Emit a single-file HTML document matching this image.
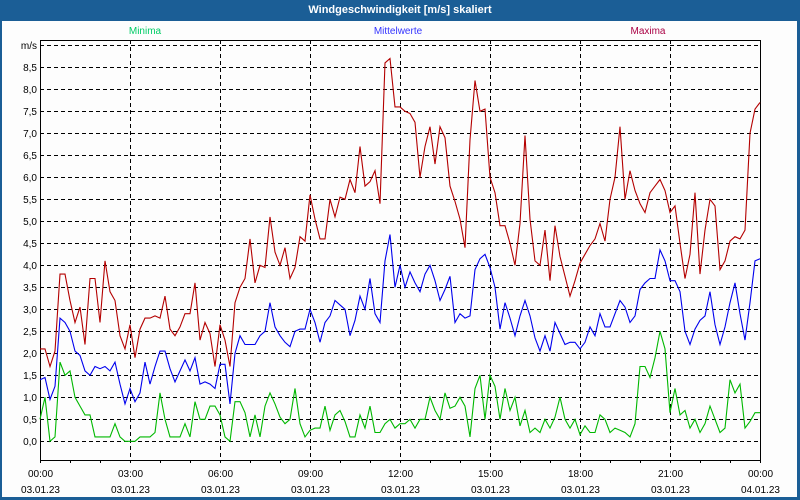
<!DOCTYPE html>
<html><head><meta charset="utf-8"><style>
body{margin:0;background:#fff;}
#win{position:relative;width:800px;height:500px;background:#1b5e96;overflow:hidden;font-family:"Liberation Sans",sans-serif;}
#title{position:absolute;left:0;top:0;width:800px;height:21px;line-height:20px;text-align:center;color:#fff;font-weight:bold;font-size:11px;}
#inner{position:absolute;left:2px;top:21px;width:795px;height:476px;background:#fdfdfd;}
svg{position:absolute;left:0;top:0;}
</style></head><body>
<div id="win">
<div id="title">Windgeschwindigkeit [m/s] skaliert</div>
<div id="inner"></div>
<svg id="chart" width="800" height="500"></svg>
</div>
<script>
const maxima=[2.1,2.1,1.7,2.05,3.8,3.8,3.2,2.7,3.05,2.2,3.7,3.7,2.7,4.1,3.4,3.2,2.4,2.1,2.65,1.9,2.55,2.8,2.8,2.85,2.8,3.3,2.55,2.4,2.6,2.9,2.9,3.6,2.3,2.7,2.45,1.7,2.65,2.3,
1.7,3.15,3.5,3.7,4.6,3.6,4.0,3.95,5.1,4.3,4.0,4.4,3.7,3.95,4.65,4.55,5.6,5.05,4.6,4.6,5.5,5.1,5.55,5.5,5.95,5.65,6.7,5.8,5.9,6.15,5.4,
8.6,8.7,7.6,7.6,7.5,7.45,
7.25,6.0,6.7,7.15,6.3,7.15,6.9,5.8,5.45,5.05,4.4,6.85,8.2,7.5,7.55,6.0,5.65,4.9,4.9,4.5,4.0,4.95,6.95,5.05,4.1,4.0,4.8,3.65,4.9,4.2,3.75,3.3,3.65,4.05,4.25,
4.45,4.6,4.95,4.55,5.5,6.0,7.15,5.5,6.15,5.7,5.4,5.2,5.65,5.8,5.95,5.7,5.2,5.35,4.5,3.7,4.25,5.65,3.8,4.8,5.5,5.35,3.9,4.1,4.55,4.65,4.6,4.8,7.0,7.55,7.7];
const mittel=[1.4,1.45,0.95,1.25,2.8,2.7,2.5,2.05,1.95,1.6,1.5,1.7,1.65,1.7,1.6,1.8,1.3,0.85,1.2,0.9,1.1,1.8,1.3,1.7,2.05,2.05,1.65,1.35,1.6,1.85,1.6,1.9,1.3,1.35,1.3,1.2,1.75,1.75,
0.85,2.0,2.4,2.2,2.2,2.2,2.4,2.5,3.15,2.6,2.4,2.25,2.15,2.5,2.55,2.55,3.0,2.7,2.25,2.7,2.85,3.2,3.1,3.0,2.4,2.75,3.3,3.0,3.7,2.9,2.7,4.1,4.7,3.5,4.0,3.5,3.85,
3.6,3.4,3.8,4.0,3.65,3.2,3.45,3.75,2.7,2.9,2.8,2.85,3.9,4.15,4.25,3.95,3.5,2.55,3.15,2.8,2.4,2.85,3.2,2.85,2.35,2.05,2.4,2.05,2.7,2.45,2.2,2.25,2.25,2.1,2.25,
2.6,2.4,2.9,2.6,2.6,2.9,3.2,3.05,2.7,2.85,3.45,3.6,3.7,3.7,4.35,4.1,3.65,3.65,3.4,2.5,2.2,2.55,2.75,2.85,3.4,2.65,2.2,2.6,3.15,3.6,2.9,2.3,3.15,4.1,4.15];
const minima=[0.5,1.0,0.0,0.1,1.8,1.5,1.6,1.0,0.8,0.6,0.6,0.1,0.1,0.1,0.1,0.4,0.1,0.0,0.0,0.0,0.1,0.1,0.1,0.2,1.1,0.5,0.1,0.1,0.1,0.4,0.1,0.9,0.5,0.5,0.8,0.8,0.6,0.1,
0.0,0.9,0.9,0.65,0.1,0.6,0.1,0.8,1.1,0.85,0.55,0.4,0.5,1.2,0.4,0.1,0.25,0.3,0.3,0.8,0.25,0.6,0.7,0.45,0.1,0.1,0.6,0.3,0.8,0.2,0.2,0.4,0.5,0.3,0.4,0.4,0.5,
0.3,0.5,0.5,1.0,0.7,0.5,1.1,0.75,0.8,1.0,0.8,0.1,1.2,1.5,0.5,1.5,1.25,0.5,1.2,0.7,1.0,0.35,0.7,0.2,0.3,0.2,0.5,0.3,0.55,1.0,0.5,0.3,0.5,0.15,0.35,
0.2,0.2,0.6,0.5,0.2,0.3,0.25,0.2,0.1,0.4,1.7,1.7,1.45,1.9,2.5,2.1,0.65,1.2,0.6,0.7,0.3,0.5,0.2,0.4,0.8,0.5,0.2,0.3,1.4,1.1,1.3,0.3,0.45,0.65,0.65];
const yTicks=["0,0","0,5","1,0","1,5","2,0","2,5","3,0","3,5","4,0","4,5","5,0","5,5","6,0","6,5","7,0","7,5","8,0","8,5"];
const xTimes=["00:00","03:00","06:00","09:00","12:00","15:00","18:00","21:00","00:00"];
const xDates=["03.01.23","03.01.23","03.01.23","03.01.23","03.01.23","03.01.23","03.01.23","03.01.23","04.01.23"];
const stepMinutes=10;

const L=40,R=760,T=40,B=460,Y0=441.3,PPU=44;
const yS=v=>Y0-v*PPU;
const xS=m=>L+m*(R-L)/1440;
const NS='http://www.w3.org/2000/svg';
const svg=document.getElementById('chart');
function mk(t,a){const e=document.createElementNS(NS,t);for(const k in a)e.setAttribute(k,a[k]);svg.appendChild(e);return e;}
mk('rect',{x:L,y:T,width:R-L,height:B-T,fill:'#fdfdfd'});
// horizontal grid
for(let i=0;i<=18;i++){const y=Math.round(yS(i*0.5))+0.5;
 const g=mk('line',{x1:L,x2:R,y1:y,y2:y,stroke:'#000','stroke-dasharray':'4,3','stroke-width':1});
 
 
 const lab=i<18?yTicks[i]:'m/s';
 const t=mk('text',{x:37,y:y+3.5,'text-anchor':'end','font-size':'10','fill':'#000','font-family':'Liberation Sans, sans-serif'});
 t.textContent=lab;
 
 
}
// vertical grid + x labels
for(let i=0;i<xTimes.length;i++){const x=Math.round(xS(i*180))+0.5;
 if(i>0&&i<xTimes.length-1){const g=mk('line',{x1:x,x2:x,y1:T,y2:B,stroke:'#000','stroke-dasharray':'4,3'});
 
 }
 const t1=mk('text',{x:x,y:477,'text-anchor':'middle','font-size':'10','font-family':'Liberation Sans, sans-serif'});t1.textContent=xTimes[i];
 
 
 const t2=mk('text',{x:x,y:493,'text-anchor':'middle','font-size':'10','font-family':'Liberation Sans, sans-serif'});t2.textContent=xDates[i];
 
 
}
for(let h=0;h<=24;h++){const x=Math.round(xS(h*60))+0.5;mk('line',{x1:x,x2:x,y1:B,y2:B+3,stroke:'#000'});}
// frame
const fr=mk('rect',{x:L+0.5,y:T+0.5,width:R-L,height:B-T,fill:'none',stroke:'#000','stroke-width':1});


// series
function series(arr,color,name){const pts=arr.map((v,i)=>xS(i*stepMinutes).toFixed(1)+','+yS(v).toFixed(1)).join(' ');
 const p=mk('polyline',{points:pts,fill:'none',stroke:color,'stroke-width':1.1});
 
 }
series(minima,'#00b800','minima-line');
series(mittel,'#0000ee','mittelwerte-line');
series(maxima,'#b40000','maxima-line');
// legend
const leg=[['Minima',145,'#00cc66'],['Mittelwerte',398,'#3333ff'],['Maxima',648,'#aa0044']];
for(const [n,x,c] of leg){const t=mk('text',{x:x,y:34,'text-anchor':'middle','font-size':'10',fill:c,'font-family':'Liberation Sans, sans-serif'});t.textContent=n;
 
 }
</script>
</body></html>
